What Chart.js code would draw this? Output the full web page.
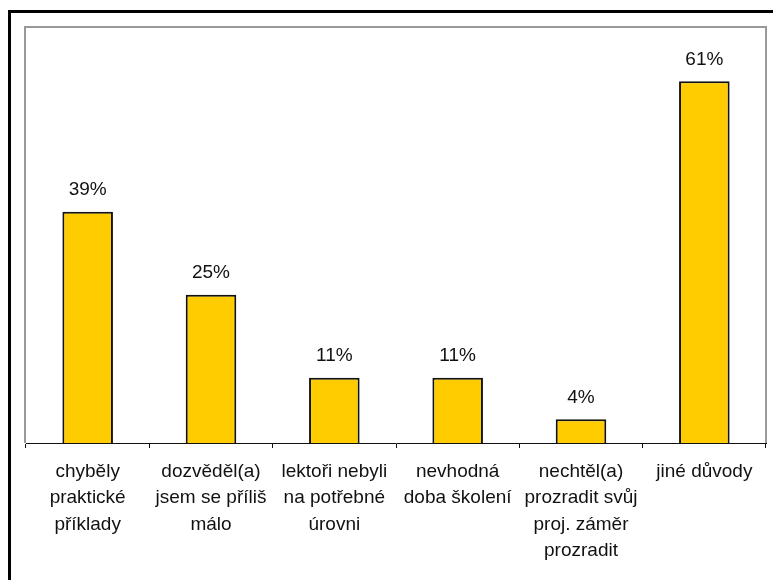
<!DOCTYPE html>
<html>
<head>
<meta charset="utf-8">
<script src="https://cdn.jsdelivr.net/npm/chart.js@4"></script>
<style>
  html, body { margin: 0; padding: 0; background: #fff; }
  #wrap { position: relative; width: 773px; height: 580px; overflow: hidden; }
  #chart { position: absolute; left: 0; top: 0; }
</style>
</head>
<body>
<div id="wrap"><canvas id="chart" width="773" height="580"></canvas></div>
<script>
// data
const categories = [
  ['chyběly', 'praktické', 'příklady'],
  ['dozvěděl(a)', 'jsem se příliš', 'málo'],
  ['lektoři nebyli', 'na potřebné', 'úrovni'],
  ['nevhodná', 'doba školení'],
  ['nechtěl(a)', 'prozradit svůj', 'proj. záměr', 'prozradit'],
  ['jiné důvody']
];
const values = [39, 25, 11, 11, 4, 61];
const yMax = 70;

const FONT = '"Liberation Sans", Arial, sans-serif';

// outer frame + gray plot border
const framePlugin = {
  id: 'frame',
  beforeDraw(chart) {
    const ctx = chart.ctx;
    const a = chart.chartArea;
    ctx.save();
    ctx.strokeStyle = '#000';
    ctx.lineWidth = 3;
    ctx.beginPath();
    ctx.moveTo(9.5, 600);
    ctx.lineTo(9.5, 11.5);
    ctx.lineTo(800, 11.5);
    ctx.stroke();

    ctx.strokeStyle = '#999';
    ctx.lineWidth = 2;
    ctx.beginPath();
    ctx.moveTo(a.left - 1, a.bottom);
    ctx.lineTo(a.left - 1, a.top - 1);
    ctx.lineTo(a.right, a.top - 1);
    ctx.lineTo(a.right, a.bottom);
    ctx.stroke();
    ctx.restore();
  }
};

// value labels above bars
const valueLabels = {
  id: 'valueLabels',
  afterDatasetsDraw(chart) {
    const ctx = chart.ctx;
    const meta = chart.getDatasetMeta(0);
    ctx.save();
    ctx.font = `19px ${FONT}`;
    ctx.fillStyle = '#111';
    ctx.textAlign = 'center';
    ctx.textBaseline = 'middle';
    meta.data.forEach((bar, i) => {
      ctx.fillText(values[i] + '%', bar.x, bar.y - 22);
    });
    ctx.restore();
  }
};

new Chart(document.getElementById('chart'), {
  type: 'bar',
  data: {
    labels: categories,
    datasets: [{
      data: values,
      backgroundColor: '#FFCC00',
      borderColor: '#111',
      borderWidth: 2,
      categoryPercentage: 1,
      barPercentage: 0.41
    }]
  },
  options: {
    responsive: false,
    animation: false,
    layout: { padding: { left: 26, right: 7, top: 28, bottom: 0 } },
    plugins: { legend: { display: false }, tooltip: { enabled: false } },
    scales: {
      x: {
        grid: {
          display: true,
          drawOnChartArea: false,
          drawTicks: true,
          offset: true,
          color: '#111',
          tickLength: 5
        },
        border: { display: true, color: '#111', width: 1 },
        ticks: {
          color: '#111',
          font: { family: FONT, size: 19, lineHeight: 1.4 },
          padding: 10,
          maxRotation: 0,
          autoSkip: false
        },
        afterFit(axis) { axis.height = 137; }
      },
      y: {
        display: false,
        min: 0,
        max: yMax
      }
    }
  },
  plugins: [framePlugin, valueLabels]
});
</script>
</body>
</html>
